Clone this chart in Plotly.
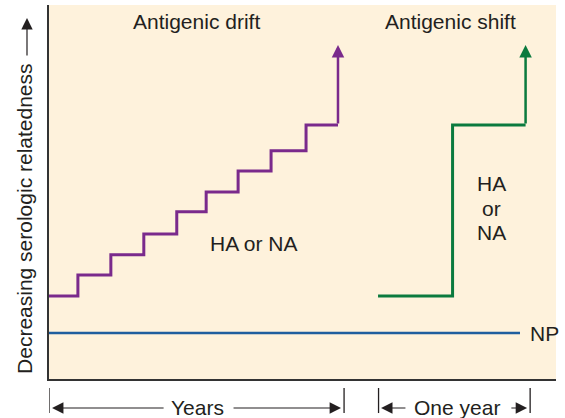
import plotly.graph_objects as go

# Antigenic drift: small stepwise changes accumulating over years
drift_step_times = [0, 5.7, 12.2, 18.7, 25.2, 31.0, 37.3, 43.8, 50.7, 57.0]
drift_levels = [22.2, 27.8, 33.2, 38.8, 44.7, 50.0, 55.6, 61.0, 67.9]

# Antigenic shift: one abrupt jump within a single year
shift_times = [64.9, 79.6, 94.0]
shift_levels = [22.2, 67.9, 67.9]

# Arrow tips showing continued change
arrow_tip_level = 89.3

# NP stays constant
np_times = [0, 92.9]
np_level = 12.3

# Time brackets below the axis
years_span = [0, 58.2]
one_year_span = [65.0, 94.9]

PURPLE = "#7a2a8c"
GREEN = "#0b7a3e"
BLUE = "#1f5e9e"
BEIGE = "#fef2dc"
INK = "#231f20"
FONT = "Liberation Sans, Arial, sans-serif"
FS = 21

fig = go.Figure()

fig.add_trace(go.Scatter(
    x=drift_step_times, y=drift_levels + [drift_levels[-1]],
    mode="lines", line=dict(color=PURPLE, width=3, shape="hv"),
    hoverinfo="skip", showlegend=False))

fig.add_trace(go.Scatter(
    x=shift_times, y=shift_levels,
    mode="lines", line=dict(color=GREEN, width=3, shape="hv"),
    hoverinfo="skip", showlegend=False))

fig.add_trace(go.Scatter(
    x=np_times, y=[np_level, np_level],
    mode="lines", line=dict(color=BLUE, width=2.5),
    hoverinfo="skip", showlegend=False))

ann = []

# vertical arrows continuing each curve
for xt, ybase, col in [(drift_step_times[-1], drift_levels[-1], PURPLE),
                       (shift_times[-1], shift_levels[-1], GREEN)]:
    ann.append(dict(x=xt, y=arrow_tip_level, ax=xt, ay=ybase,
                    xref="x", yref="y", axref="x", ayref="y",
                    text="", showarrow=True, arrowhead=2, arrowsize=1.0,
                    arrowwidth=2.5, arrowcolor=col))

def label(text, x, y, xref="x", yref="y", xanchor="center", **kw):
    ann.append(dict(text=text, x=x, y=y, xref=xref, yref=yref,
                    xanchor=xanchor, yanchor="middle", showarrow=False,
                    font=dict(family=FONT, size=FS, color=INK), **kw))

label("Antigenic drift", 29.0, 95.5)
label("Antigenic shift", 79.1, 95.5)
label("HA or NA", 40.5, 36.1)
# stacked label beside the shift jump
for word, yv in [("HA", 52.4), ("or", 45.7), ("NA", 39.3)]:
    label(word, 87.2, yv)
label("NP", 94.5, np_level, xanchor="left")

# y-axis title with an upward arrow
label("Decreasing serologic relatedness", -0.0473, 0.428,
      xref="paper", yref="paper", textangle=-90)
ann.append(dict(x=-0.0434, y=0.965, ax=0, ay=39,
                xref="paper", yref="paper", axref="pixel", ayref="pixel",
                text="", showarrow=True, arrowhead=2, arrowsize=1.9,
                arrowwidth=1.2, arrowcolor=INK))

# bracket labels
bracket_y = -0.0775
label("Years", 29.2, bracket_y, yref="paper")
label("One year", 80.5, bracket_y, yref="paper")

# bracket arrows: (tip, tail)
for tip, tail in [(0.6, 22.9), (57.6, 36.1), (65.5, 70.6), (94.3, 90.9)]:
    ann.append(dict(x=tip, y=bracket_y, ax=tail, ay=0,
                    xref="x", yref="paper", axref="x", ayref="pixel",
                    text="", showarrow=True, arrowhead=2, arrowsize=1.9,
                    arrowwidth=1.2, arrowcolor=INK))

shapes = []
for xv in years_span + one_year_span:
    shapes.append(dict(type="line", xref="x", yref="paper",
                       x0=xv, x1=xv, y0=-0.024, y1=-0.091,
                       line=dict(color=INK, width=1.3)))

fig.update_layout(
    width=565, height=418, autosize=False,
    margin=dict(l=49, r=9, t=5, b=39),
    paper_bgcolor="white", plot_bgcolor=BEIGE,
    annotations=ann, shapes=shapes,
    xaxis=dict(range=[0, 100], showgrid=False, zeroline=False,
               showticklabels=False, ticks="", showline=True,
               linecolor="#333333", linewidth=1.5, fixedrange=True),
    yaxis=dict(range=[0, 100], showgrid=False, zeroline=False,
               showticklabels=False, ticks="", showline=True,
               linecolor="#333333", linewidth=1.5, fixedrange=True),
)

fig.write_html("out.html")
